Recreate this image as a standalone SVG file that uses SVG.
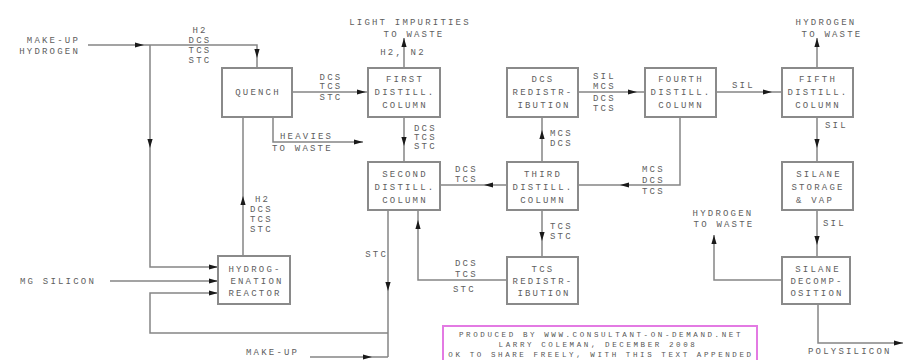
<svg xmlns="http://www.w3.org/2000/svg" xmlns:xlink="http://www.w3.org/1999/xlink" width="905" height="360" viewBox="0 0 905 360">
<style>
.box{fill:#fff;stroke:#8a8a8a;stroke-width:2}
.ln{fill:none;stroke:#858585;stroke-width:1.5}
.t{font-family:"Liberation Mono",monospace;font-size:9px;letter-spacing:2.2px;fill:#5e5e5e}
.m{text-anchor:middle}
.e{text-anchor:end}
.ar{fill:#1a1a1a}
.cr{font-family:"Liberation Mono",monospace;font-size:7.5px;letter-spacing:2.6px;fill:#555;text-anchor:middle}
</style>
<defs>
<path id="tri" d="M0,0 L-9,-2.6 L-9,2.6 Z"/>
</defs>
<rect width="905" height="360" fill="#fff"/>

<g id="connectors">
<path class="ln" d="M88,45 H257 V68"/>
<path class="ln" d="M150,45 V267 H218"/>
<path class="ln" d="M110,281 H218"/>
<path class="ln" d="M388,210 V357"/>
<path class="ln" d="M388,333 H150 V293 H218"/>
<path class="ln" d="M310,357 H388"/>
<path class="ln" d="M292,92 H368"/>
<path class="ln" d="M273,117 V142 H363"/>
<path class="ln" d="M243,117 V256"/>
<path class="ln" d="M404,68 V38"/>
<path class="ln" d="M404,117 V162"/>
<path class="ln" d="M507,280 H418 V210"/>
<path class="ln" d="M507,185 H440"/>
<path class="ln" d="M542,162 V117"/>
<path class="ln" d="M542,210 V257"/>
<path class="ln" d="M578,92 H645"/>
<path class="ln" d="M680,117 V185 H578"/>
<path class="ln" d="M716,92 H782"/>
<path class="ln" d="M817,68 V38"/>
<path class="ln" d="M817,117 V162"/>
<path class="ln" d="M817,210 V257"/>
<path class="ln" d="M782,280 H714 V235"/>
<path class="ln" d="M818,304 V343 H903"/>
<g class="ar">
<use xlink:href="#tri" transform="translate(144,45)"/>
<use xlink:href="#tri" transform="translate(257,58) rotate(90)"/>
<use xlink:href="#tri" transform="translate(150,148) rotate(90)"/>
<use xlink:href="#tri" transform="translate(218,267)"/>
<use xlink:href="#tri" transform="translate(218,281)"/>
<use xlink:href="#tri" transform="translate(388,291) rotate(90)"/>
<use xlink:href="#tri" transform="translate(218,293)"/>
<use xlink:href="#tri" transform="translate(372,357)"/>
<use xlink:href="#tri" transform="translate(366,92)"/>
<use xlink:href="#tri" transform="translate(363,142)"/>
<use xlink:href="#tri" transform="translate(243,196) rotate(-90)"/>
<use xlink:href="#tri" transform="translate(404,38) rotate(-90)"/>
<use xlink:href="#tri" transform="translate(404,146) rotate(90)"/>
<use xlink:href="#tri" transform="translate(418,220) rotate(-90)"/>
<use xlink:href="#tri" transform="translate(484,185) rotate(180)"/>
<use xlink:href="#tri" transform="translate(542,130) rotate(-90)"/>
<use xlink:href="#tri" transform="translate(542,241) rotate(90)"/>
<use xlink:href="#tri" transform="translate(637,92)"/>
<use xlink:href="#tri" transform="translate(620,185) rotate(180)"/>
<use xlink:href="#tri" transform="translate(772,92)"/>
<use xlink:href="#tri" transform="translate(817,38) rotate(-90)"/>
<use xlink:href="#tri" transform="translate(817,148) rotate(90)"/>
<use xlink:href="#tri" transform="translate(817,245) rotate(90)"/>
<use xlink:href="#tri" transform="translate(714,235) rotate(-90)"/>
<use xlink:href="#tri" transform="translate(903,343)"/>
</g>
</g>

<g id="labels">
<text class="t e" x="80" y="43">MAKE-UP</text>
<text class="t e" x="80" y="54">HYDROGEN</text>
<text class="t m" x="200" y="33">H2</text>
<text class="t m" x="200" y="43">DCS</text>
<text class="t m" x="200" y="53">TCS</text>
<text class="t m" x="200" y="63">STC</text>
<text class="t m" x="331" y="80">DCS</text>
<text class="t m" x="331" y="89">TCS</text>
<text class="t m" x="331" y="100">STC</text>
<text class="t m" x="410" y="25">LIGHT IMPURITIES</text>
<text class="t m" x="414" y="37">TO WASTE</text>
<text class="t m" x="403" y="55">H2, N2</text>
<text class="t" x="280" y="139">HEAVIES</text>
<text class="t" x="272" y="151">TO WASTE</text>
<text class="t" x="414" y="131">DCS</text>
<text class="t" x="414" y="140">TCS</text>
<text class="t" x="414" y="149">STC</text>
<text class="t" x="255" y="202">H2</text>
<text class="t" x="250" y="212">DCS</text>
<text class="t" x="250" y="222">TCS</text>
<text class="t" x="250" y="232">STC</text>
<text class="t" x="20" y="284">MG SILICON</text>
<text class="t e" x="388" y="257">STC</text>
<text class="t" x="246" y="355">MAKE-UP</text>
<text class="t" x="455" y="172">DCS</text>
<text class="t" x="455" y="182">TCS</text>
<text class="t" x="455" y="266">DCS</text>
<text class="t" x="455" y="277">TCS</text>
<text class="t" x="453" y="292">STC</text>
<text class="t" x="550" y="136">MCS</text>
<text class="t" x="550" y="146">DCS</text>
<text class="t" x="550" y="229">TCS</text>
<text class="t" x="550" y="239">STC</text>
<text class="t" x="593" y="79">SIL</text>
<text class="t" x="593" y="89">MCS</text>
<text class="t" x="593" y="101">DCS</text>
<text class="t" x="593" y="111">TCS</text>
<text class="t" x="642" y="172">MCS</text>
<text class="t" x="642" y="183">DCS</text>
<text class="t" x="642" y="194">TCS</text>
<text class="t" x="732" y="88">SIL</text>
<text class="t m" x="826" y="25">HYDROGEN</text>
<text class="t m" x="832" y="37">TO WASTE</text>
<text class="t" x="825" y="128">SIL</text>
<text class="t" x="823" y="226">SIL</text>
<text class="t m" x="723" y="216">HYDROGEN</text>
<text class="t m" x="724" y="227">TO WASTE</text>
<text class="t" x="808" y="354">POLYSILICON</text>
</g>

<g id="quench"><rect class="box" x="222" y="68" width="70" height="49"/><text class="t m" x="258" y="95">QUENCH</text></g>
<g id="first-distill"><rect class="box" x="368" y="68" width="72" height="49"/><text class="t m" x="405" y="82">FIRST</text><text class="t m" x="405" y="95">DISTILL.</text><text class="t m" x="405" y="108">COLUMN</text></g>
<g id="dcs-redistribution"><rect class="box" x="507" y="68" width="71" height="49"/><text class="t m" x="543" y="82">DCS</text><text class="t m" x="543" y="95">REDISTR-</text><text class="t m" x="544" y="108">IBUTION</text></g>
<g id="fourth-distill"><rect class="box" x="645" y="68" width="71" height="49"/><text class="t m" x="681" y="82">FOURTH</text><text class="t m" x="681" y="95">DISTILL.</text><text class="t m" x="681" y="108">COLUMN</text></g>
<g id="fifth-distill"><rect class="box" x="782" y="68" width="71" height="49"/><text class="t m" x="818" y="82">FIFTH</text><text class="t m" x="818" y="95">DISTILL.</text><text class="t m" x="818" y="108">COLUMN</text></g>
<g id="second-distill"><rect class="box" x="368" y="162" width="72" height="48"/><text class="t m" x="405" y="177">SECOND</text><text class="t m" x="405" y="190">DISTILL.</text><text class="t m" x="405" y="203">COLUMN</text></g>
<g id="third-distill"><rect class="box" x="507" y="162" width="71" height="48"/><text class="t m" x="543" y="177">THIRD</text><text class="t m" x="543" y="190">DISTILL.</text><text class="t m" x="543" y="203">COLUMN</text></g>
<g id="silane-storage"><rect class="box" x="782" y="162" width="71" height="48"/><text class="t m" x="819" y="177">SILANE</text><text class="t m" x="818" y="190">STORAGE</text><text class="t m" x="815" y="203">&amp; VAP</text></g>
<g id="hydrogenation-reactor"><rect class="box" x="218" y="256" width="72" height="48"/><text class="t m" x="255" y="272">HYDROG-</text><text class="t m" x="257" y="284">ENATION</text><text class="t m" x="255" y="296">REACTOR</text></g>
<g id="tcs-redistribution"><rect class="box" x="507" y="257" width="71" height="47"/><text class="t m" x="543" y="272">TCS</text><text class="t m" x="543" y="284">REDISTR-</text><text class="t m" x="544" y="296">IBUTION</text></g>
<g id="silane-decomposition"><rect class="box" x="782" y="257" width="68" height="47"/><text class="t m" x="818" y="272">SILANE</text><text class="t m" x="817" y="284">DECOMP-</text><text class="t m" x="817" y="296">OSITION</text></g>

<g id="credit">
<rect x="443" y="326" width="314" height="40" fill="#fff" stroke="#e37ae3" stroke-width="2"/>
<text class="cr" x="601" y="337">PRODUCED BY WWW.CONSULTANT-ON-DEMAND.NET</text>
<text class="cr" x="598" y="347">LARRY COLEMAN, DECEMBER 2008</text>
<text class="cr" x="601" y="357">OK TO SHARE FREELY, WITH THIS TEXT APPENDED</text>
</g>
</svg>
